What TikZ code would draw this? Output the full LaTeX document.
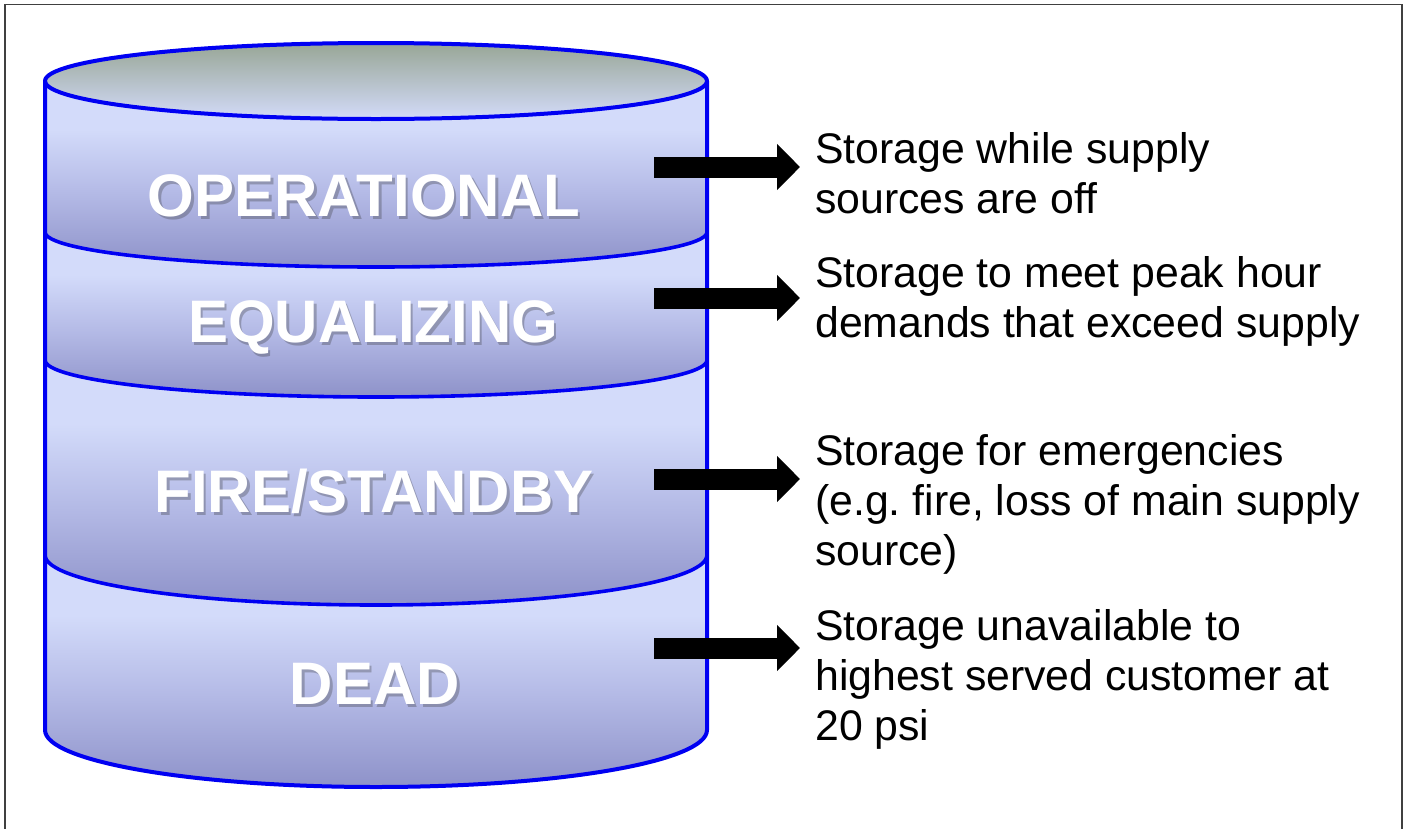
\documentclass[tikz,border=0pt]{standalone}
\usepackage{fontspec}
\setmainfont{Liberation Sans}
\usetikzlibrary{arrows.meta}
\frenchspacing

\definecolor{tankline}{HTML}{0000F2}
\definecolor{bandtop}{HTML}{D3DBFA}
\definecolor{bandmid}{HTML}{B4BAE6}
\definecolor{bandbot}{HTML}{8E92C9}
\definecolor{lidtop}{HTML}{98A696}
\definecolor{lidbot}{HTML}{D3DBF9}

% light upper part of a layer, darkening towards its lower rim
\pgfdeclareverticalshading{tanklayershade}{100bp}{%
  color(0bp)=(bandbot); color(25bp)=(bandbot); color(45bp)=(bandmid);
  color(62bp)=(bandtop); color(75bp)=(bandtop); color(100bp)=(bandtop)}

\tikzset{
  frameline/.style={draw=black!75, line width=1.4pt},
  tankedge/.style={draw=tankline, line width=4pt, line join=round},
  bandedge/.style={draw=tankline, line width=3.6pt},
  bandfill/.style={shading=tanklayershade},
  tanklabel/.style={font=\bfseries\fontsize{60}{62}\selectfont, text=white, inner sep=0pt, anchor=base},
  labelshadow/.style={tanklabel, text=black!80, opacity=0.3},
  note/.style={font=\fontsize{42.8}{50}\selectfont, align=left, inner sep=0pt, anchor=base west},
  blockarrow/.style={line width=21pt, draw=black, -{Triangle[length=23pt, width=45pt]}}
}

% one layer of the tank: between two lower half-ellipses
\newcommand\tanklayer[4]{%
  \shade[bandfill] (45,-#1) arc[start angle=180, end angle=360, x radius=331, y radius=#2]
    -- (707,-#3) arc[start angle=0, end angle=-180, x radius=331, y radius=#4] -- cycle;}

% lower rim of a layer
\newcommand\layerrim[2]{%
  \draw[bandedge] (45,-#1) arc[start angle=180, end angle=360, x radius=331, y radius=#2];}

% white layer name with a soft drop shadow
\newcommand\layername[4]{%
  \node[labelshadow] (#1s) at (#2+2.5,-#3-3) {#4};
  \node[tanklabel] (#1) at (#2,-#3) {#4};}

\begin{document}
\begin{tikzpicture}[x=1pt, y=1pt]
\useasboundingbox (0,0) rectangle (1409,-828);
\fill[white] (0,0) rectangle (1409,-828);

% outer frame (open at the bottom edge of the page)
\draw[frameline] (5,-840) -- (5,-4.5) -- (1402,-4.5) -- (1402,-840);

% tank layers
\tanklayer{81}{38}{232}{35}
\tanklayer{232}{35}{360}{37}
\tanklayer{360}{37}{555}{50}
\tanklayer{555}{50}{730}{57}

% lid
\shade[top color=lidtop, bottom color=lidbot] (376,-81) ellipse[x radius=331, y radius=38];

% outlines
\layerrim{232}{35}
\layerrim{360}{37}
\layerrim{555}{50}
\draw[tankedge] (45,-81) -- (45,-730) arc[start angle=180, end angle=360, x radius=331, y radius=57] -- (707,-81);
\draw[tankedge] (376,-81) ellipse[x radius=331, y radius=38];

% layer names
\layername{op}{364}{216}{OPERATIONAL}
\layername{eq}{373}{342}{EQUALIZING}
\layername{fs}{374}{512}{FIRE/STANDBY}
\layername{dd}{375}{704}{DEAD}

% descriptions (anchored at the baseline of their last line)
\node[note] (d1) at (815,-213) {Storage while supply\\sources are off};
\node[note] (d2) at (815,-337) {Storage to meet peak hour\\demands that exceed supply};
\node[note] (d3) at (815,-565) {Storage for emergencies\\(e.g. fire, loss of main supply\\source)};
\node[note] (d4) at (815,-740) {Storage unavailable to\\highest served customer at\\20 psi};

% arrows from the tank to the descriptions
\coordinate (a1) at (654,-167);
\coordinate (a2) at (654,-298);
\coordinate (a3) at (654,-479);
\coordinate (a4) at (654,-648);
\draw[blockarrow] (a1) -- ([xshift=-15pt]a1 -| d1.west);
\draw[blockarrow] (a2) -- ([xshift=-15pt]a2 -| d2.west);
\draw[blockarrow] (a3) -- ([xshift=-15pt]a3 -| d3.west);
\draw[blockarrow] (a4) -- ([xshift=-15pt]a4 -| d4.west);
\end{tikzpicture}
\end{document}
